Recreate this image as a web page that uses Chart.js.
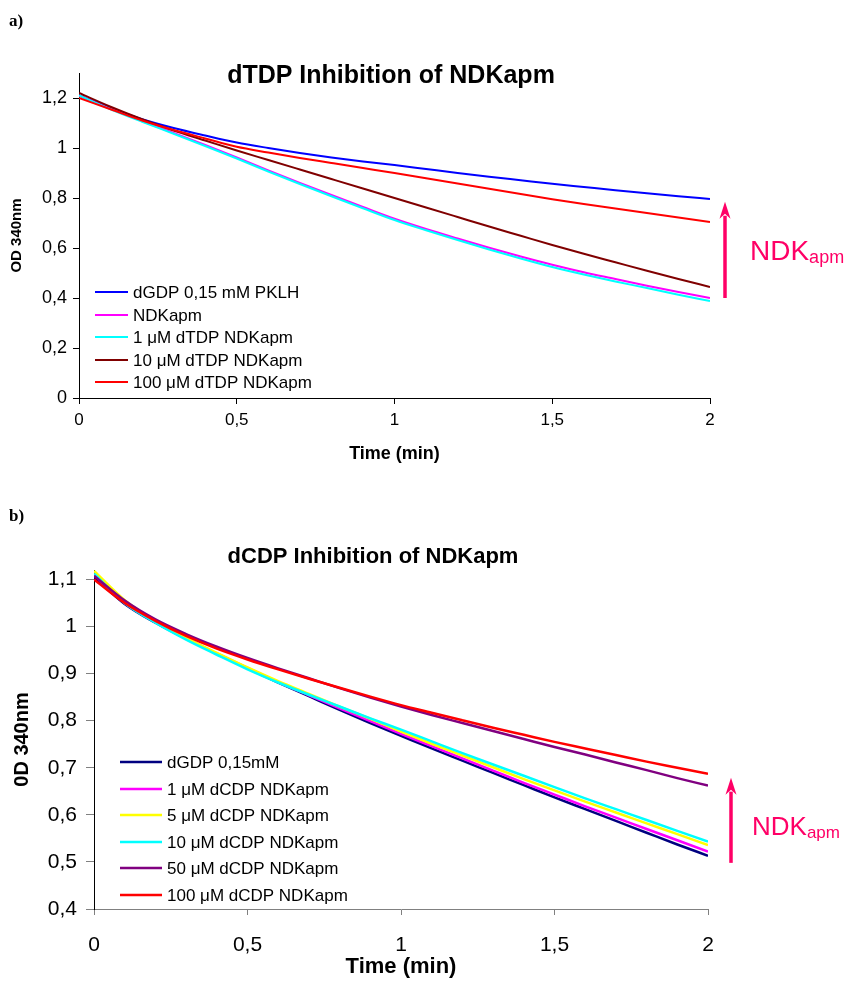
<!DOCTYPE html>
<html>
<head>
<meta charset="utf-8">
<script src="https://cdn.jsdelivr.net/npm/chart.js@4.4.1/dist/chart.umd.min.js"></script>
<style>
  html, body { margin: 0; padding: 0; background: #fff; }
  body { width: 844px; height: 981px; position: relative; overflow: hidden; }
  canvas { position: absolute; left: 0; }
</style>
</head>
<body>
<canvas id="c1" width="844" height="480" style="top:0"></canvas>
<canvas id="c2" width="844" height="501" style="top:480px"></canvas>
<script>
// ---------- Tick labels ----------
const xTicks  = [0, 0.5, 1, 1.5, 2];
const aYTicks = [0, 0.2, 0.4, 0.6, 0.8, 1.0, 1.2];
const bYTicks = [0.4, 0.5, 0.6, 0.7, 0.8, 0.9, 1.0, 1.1];

// ---------- Data: panel a) dTDP inhibition ----------
const timeA = [0, 0.1, 0.2, 0.3, 0.4, 0.5, 0.6, 0.7, 0.8, 0.9, 1.0, 1.1, 1.2, 1.3, 1.4, 1.5, 1.6, 1.7, 1.8, 1.9, 2.0];
const aLabels = ['dGDP 0,15 mM PKLH', 'NDKapm', '1 \u03bcM dTDP NDKapm', '10 \u03bcM dTDP NDKapm', '100 \u03bcM dTDP NDKapm'];
const aColors = ['#0000ff', '#ff00ff', '#00ffff', '#800000', '#ff0000'];
const aDGDP   = [1.21, 1.16, 1.115, 1.08, 1.05, 1.022, 1.0, 0.98, 0.962, 0.946, 0.932, 0.916, 0.9, 0.885, 0.871, 0.857, 0.844, 0.831, 0.819, 0.807, 0.796];
const aNDK    = [1.21, 1.157, 1.108, 1.06, 1.012, 0.962, 0.91, 0.86, 0.812, 0.764, 0.717, 0.676, 0.638, 0.601, 0.566, 0.533, 0.503, 0.476, 0.449, 0.424, 0.40];
const aT1     = [1.21, 1.155, 1.105, 1.057, 1.008, 0.958, 0.906, 0.856, 0.807, 0.759, 0.712, 0.671, 0.632, 0.594, 0.558, 0.524, 0.494, 0.466, 0.44, 0.413, 0.388];
const aT10    = [1.22, 1.165, 1.115, 1.07, 1.03, 0.99, 0.952, 0.914, 0.876, 0.838, 0.8, 0.762, 0.724, 0.686, 0.649, 0.612, 0.577, 0.543, 0.509, 0.476, 0.444];
const aT100   = [1.20, 1.155, 1.11, 1.072, 1.038, 1.005, 0.982, 0.96, 0.94, 0.92, 0.9, 0.879, 0.858, 0.837, 0.816, 0.795, 0.776, 0.758, 0.74, 0.722, 0.704];
const aSeries = [aDGDP, aNDK, aT1, aT10, aT100];

// ---------- Data: panel b) dCDP inhibition ----------
const timeB = [0, 0.1, 0.2, 0.3, 0.4, 0.5, 0.6, 0.7, 0.8, 0.9, 1.0, 1.1, 1.2, 1.3, 1.4, 1.5, 1.6, 1.7, 1.8, 1.9, 2.0];
const bLabels = ['dGDP 0,15mM', '1 \u03bcM dCDP NDKapm', '5 \u03bcM dCDP NDKapm', '10 \u03bcM dCDP NDKapm', '50 \u03bcM dCDP NDKapm', '100 \u03bcM dCDP NDKapm'];
const bColors = ['#000080', '#ff00ff', '#ffff00', '#00ffff', '#800080', '#ff0000'];
const bDGDP  = [1.105, 1.048, 1.008, 0.974, 0.942, 0.911, 0.881, 0.852, 0.823, 0.795, 0.768, 0.741, 0.715, 0.689, 0.663, 0.637, 0.612, 0.587, 0.562, 0.537, 0.513];
const bC1    = [1.11, 1.05, 1.010, 0.975, 0.943, 0.912, 0.882, 0.854, 0.826, 0.799, 0.772, 0.746, 0.72, 0.694, 0.668, 0.643, 0.618, 0.594, 0.57, 0.546, 0.522];
const bC5    = [1.118, 1.056, 1.012, 0.976, 0.944, 0.913, 0.884, 0.857, 0.830, 0.804, 0.777, 0.751, 0.726, 0.701, 0.676, 0.652, 0.628, 0.605, 0.582, 0.559, 0.536];
const bC10   = [1.112, 1.05, 1.008, 0.972, 0.94, 0.909, 0.881, 0.855, 0.83, 0.805, 0.781, 0.756, 0.731, 0.707, 0.683, 0.659, 0.635, 0.612, 0.589, 0.566, 0.543];
const bC50   = [1.108, 1.055, 1.015, 0.984, 0.957, 0.933, 0.911, 0.89, 0.869, 0.849, 0.83, 0.812, 0.795, 0.778, 0.761, 0.744, 0.728, 0.711, 0.695, 0.678, 0.662];
const bC100  = [1.10, 1.05, 1.012, 0.98, 0.953, 0.93, 0.909, 0.889, 0.87, 0.851, 0.833, 0.817, 0.801, 0.785, 0.77, 0.755, 0.741, 0.727, 0.713, 0.70, 0.687];
const bSeries = [bDGDP, bC1, bC5, bC10, bC50, bC100];

const FONT = '"Liberation Sans", Arial, Helvetica, sans-serif';
const comma = v => String(Number(v.toFixed(2))).replace('.', ',');

// plugin drawing titles, in-plot legend and the NDKapm arrow
const extras = {
  id: 'extras',
  afterDraw(chart, args, o) {
    const ctx = chart.ctx, ca = chart.chartArea, xs = chart.scales.x, ys = chart.scales.y;
    ctx.save();
    ctx.fillStyle = '#000';
    ctx.textAlign = 'left'; ctx.textBaseline = 'alphabetic';
    ctx.font = `bold ${o.panelSize}px "Liberation Serif", "Times New Roman", serif`;
    ctx.fillText(o.panel, o.panelX, o.panelY);
    ctx.textAlign = 'center';
    ctx.font = `bold ${o.titleSize}px ${FONT}`;
    ctx.fillText(o.title, o.titleX, o.titleY);
    ctx.textAlign = 'left'; ctx.textBaseline = 'middle';
    ctx.font = `${o.legSize}px ${FONT}`;
    chart.data.datasets.forEach((d, i) => {
      const y = Math.round(ca.bottom - o.legFromBottom + i * o.legDy);
      ctx.strokeStyle = d.borderColor; ctx.lineWidth = o.legLine;
      ctx.beginPath(); ctx.moveTo(ca.left + o.legX0, y); ctx.lineTo(ca.left + o.legX1, y); ctx.stroke();
      ctx.fillStyle = '#000';
      ctx.fillText(d.label, ca.left + o.legTx, y + 1);
    });
    const ax = xs.getPixelForValue(xs.max) + o.arrowDx;
    const yb = ys.getPixelForValue(o.arrowFrom), yt = ys.getPixelForValue(o.arrowTo);
    ctx.strokeStyle = o.color; ctx.fillStyle = o.color; ctx.lineWidth = o.arrowW;
    ctx.beginPath(); ctx.moveTo(ax, yb); ctx.lineTo(ax, yt + o.headH - 3); ctx.stroke();
    ctx.beginPath();
    ctx.moveTo(ax, yt);
    ctx.lineTo(ax - o.headW / 2, yt + o.headH);
    ctx.lineTo(ax, yt + o.headH - 5);
    ctx.lineTo(ax + o.headW / 2, yt + o.headH);
    ctx.closePath(); ctx.fill();
    const tx = xs.getPixelForValue(xs.max) + o.textDx;
    const ty = ys.getPixelForValue(o.textAt);
    ctx.textBaseline = 'alphabetic';
    ctx.font = `${o.ndkSize}px ${FONT}`;
    ctx.fillText('NDK', tx, ty);
    const w = ctx.measureText('NDK').width;
    ctx.font = `${o.subSize}px ${FONT}`;
    ctx.fillText('apm', tx + w, ty + o.subDy);
    ctx.restore();
  }
};

function makeChart(id, cfg) {
  const n = cfg.series.length;
  return new Chart(document.getElementById(id), {
    type: 'line',
    data: {
      datasets: cfg.series.map((s, i) => ({
        label: cfg.labels[i],
        data: cfg.time.map((t, k) => ({ x: t, y: s[k] })),
        borderColor: cfg.colors[i],
        backgroundColor: cfg.colors[i],
        borderWidth: cfg.lineW,
        pointRadius: 0,
        cubicInterpolationMode: 'monotone',
        fill: false,
        order: n - 1 - i
      }))
    },
    options: {
      responsive: false,
      devicePixelRatio: 1,
      animation: false,
      events: [],
      layout: { padding: cfg.padding },
      plugins: {
        legend: { display: false },
        tooltip: { enabled: false },
        title: { display: false },
        extras: cfg.extras
      },
      scales: {
        x: {
          type: 'linear', min: 0, max: 2,
          border: { color: cfg.xBorder, width: 1 },
          grid: { drawOnChartArea: false, drawTicks: true, tickLength: cfg.xTickLen, color: cfg.xBorder, tickColor: cfg.xBorder },
          ticks: { color: '#000', font: { family: FONT, size: cfg.xTickSize }, padding: cfg.xTickPad, maxRotation: 0, callback: v => comma(v) },
          afterBuildTicks: s => { s.ticks = xTicks.map(v => ({ value: v })); },
          title: { display: true, text: 'Time (min)', color: '#000', font: { family: FONT, size: cfg.xTitleSize, weight: 'bold' }, padding: { top: 0, bottom: cfg.xTitlePad } },
          afterFit: s => { s.height = cfg.xHeight; }
        },
        y: {
          type: 'linear', min: cfg.yMin, max: cfg.yMax,
          border: { color: '#000', width: 1 },
          grid: { drawOnChartArea: false, drawTicks: true, tickLength: cfg.yTickLen, color: cfg.yTickColor, tickColor: cfg.yTickColor },
          ticks: { color: '#000', font: { family: FONT, size: cfg.yTickSize }, padding: cfg.yTickPad, callback: v => comma(v) },
          afterBuildTicks: s => { s.ticks = cfg.yTicks.map(v => ({ value: v })); },
          title: { display: true, text: cfg.yTitle, color: '#000', font: { family: FONT, size: cfg.yTitleSize, weight: 'bold' }, padding: { top: cfg.yTitlePad, bottom: 0 } },
          afterFit: s => { s.width = cfg.yWidth; }
        }
      }
    },
    plugins: [extras]
  });
}

makeChart('c1', {
  time: timeA, series: aSeries, labels: aLabels, colors: aColors, lineW: 2,
  padding: { left: 0, top: 73, right: 134, bottom: 0 },
  xBorder: '#000', xTickLen: 6, xTickSize: 17, xTickPad: 6, xTitleSize: 18, xTitlePad: 15, xHeight: 82,
  yMin: 0, yMax: 1.3, yTicks: aYTicks, yTickLen: 6, yTickColor: '#000', yTickSize: 18, yTickPad: 6,
  yTitle: 'OD 340nm', yTitleSize: 15, yTitlePad: 8, yWidth: 79,
  extras: {
    panel: 'a)', panelSize: 17, panelX: 9, panelY: 26,
    title: 'dTDP Inhibition of NDKapm', titleSize: 25, titleX: 391, titleY: 83,
    legSize: 17, legFromBottom: 106, legDy: 22.5, legLine: 2, legX0: 16, legX1: 49, legTx: 54,
    color: '#ff0066', arrowDx: 15, arrowFrom: 0.4, arrowTo: 0.785, arrowW: 3.5, headW: 11, headH: 17,
    textDx: 40, textAt: 0.552, ndkSize: 28, subSize: 18, subDy: 3
  }
});

makeChart('c2', {
  time: timeB, series: bSeries, labels: bLabels, colors: bColors, lineW: 2.5,
  padding: { left: 0, top: 90, right: 136, bottom: 0 },
  xBorder: '#808080', xTickLen: 6, xTickSize: 21, xTickPad: 18, xTitleSize: 22, xTitlePad: 1, xHeight: 72,
  yMin: 0.4, yMax: 1.12, yTicks: bYTicks, yTickLen: 8, yTickColor: '#808080', yTickSize: 21, yTickPad: 9,
  yTitle: '0D 340nm', yTitleSize: 20, yTitlePad: 10, yWidth: 94,
  extras: {
    panel: 'b)', panelSize: 17, panelX: 9, panelY: 41,
    title: 'dCDP Inhibition of NDKapm', titleSize: 22, titleX: 373, titleY: 83,
    legSize: 17, legFromBottom: 147, legDy: 26.6, legLine: 2.5, legX0: 26, legX1: 68, legTx: 73,
    color: '#ff0066', arrowDx: 23, arrowFrom: 0.498, arrowTo: 0.679, arrowW: 3.5, headW: 11, headH: 17,
    textDx: 44, textAt: 0.557, ndkSize: 26, subSize: 17, subDy: 3
  }
});
</script>
</body>
</html>
